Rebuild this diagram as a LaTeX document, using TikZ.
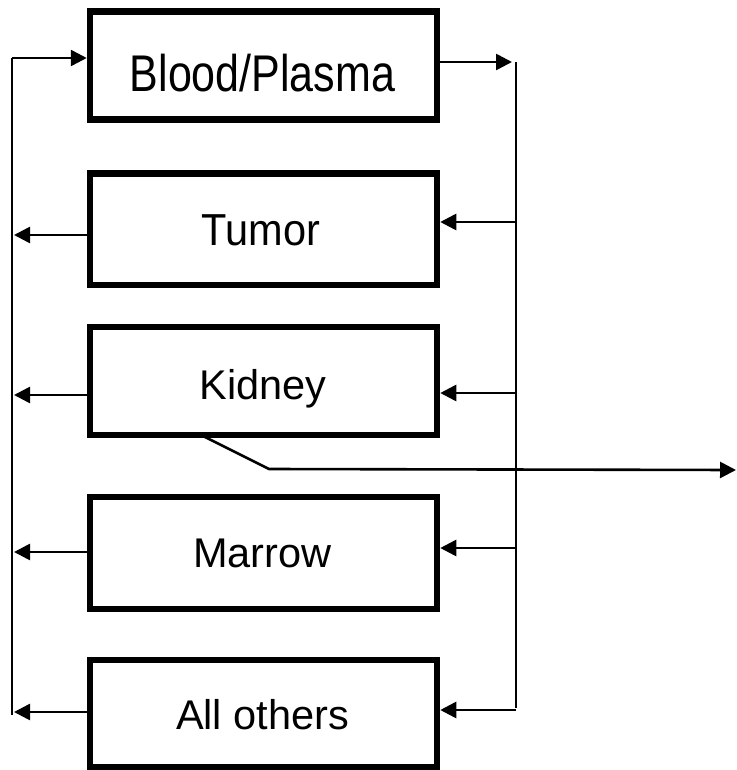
\documentclass[tikz,border=0pt]{standalone}
\usepackage{fontspec}
\setmainfont{Liberation Sans}
\usetikzlibrary{arrows.meta}
\begin{document}
\begin{tikzpicture}[x=1pt,y=-1pt,
  box/.style={draw,line width=6.5pt,minimum width=347pt,inner sep=0pt},
  lbl/.style={anchor=base,inner sep=0pt,font=\fontsize{41.5}{48}\selectfont},
  conn/.style={line width=2.6pt,-{Triangle[length=16pt,width=16pt]}},
  rail/.style={line width=1.6pt}]
\useasboundingbox (0,0) rectangle (736,770);
\node[box,minimum height=108pt] (blood) at (263.5,65.5) {};
\node[box,minimum height=111.5pt] (tumor) at (263.5,229) {};
\node[box,minimum height=108pt] (kidney) at (263.5,381) {};
\node[box,minimum height=112pt] (marrow) at (263.5,553) {};
\node[box,minimum height=107pt] (others) at (263.5,713.5) {};
\node[lbl,font=\fontsize{43}{50}\selectfont] (bloodtxt) at (262.5,92) {\scalebox{1}[1.2]{Blood/Plasma}};
\node[lbl] (tumortxt) at (261,245) {\scalebox{1}[1.08]{Tumor}};
\node[lbl] (kidneytxt) at (263,399) {Kidney};
\node[lbl] (marrowtxt) at (262.5,567) {Marrow};
\node[lbl] (otherstxt) at (262.5,729) {All others};
% left rail
\coordinate (Ltop) at (12,58);
\coordinate (Lbot) at (12,715);
\draw[rail] (Ltop) -- (Lbot);
\draw[conn] (Ltop) -- (Ltop -| blood.west);
\coordinate (Lt) at (14,235);
\coordinate (Lk) at (14,395);
\coordinate (Lm) at (14,552);
\coordinate (Lo) at (14,712);
\draw[conn] (Lt -| tumor.west) -- (Lt);
\draw[conn] (Lk -| kidney.west) -- (Lk);
\draw[conn] (Lm -| marrow.west) -- (Lm);
\draw[conn] (Lo -| others.west) -- (Lo);
% right rail
\coordinate (Rtop) at (516,62);
\coordinate (Rbot) at (516,708);
\draw[rail] (Rtop) -- (Rbot);
\draw[conn] (Rtop -| blood.east) -- (512,62);
\coordinate (Rt) at (516,222);
\coordinate (Rk) at (516,393);
\coordinate (Rm) at (516,548);
\coordinate (Ro) at (516,710);
\draw[conn] (Rt) -- (Rt -| tumor.east);
\draw[conn] (Rk) -- (Rk -| kidney.east);
\draw[conn] (Rm) -- (Rm -| marrow.east);
\draw[conn] (Ro) -- (Ro -| others.east);
% kidney outflow
\coordinate (ks) at (199,434);
\coordinate (kb) at (269,469);
\coordinate (ke) at (736,470);
\draw[conn] (ks) -- (kb) -- (ke);
\end{tikzpicture}
\end{document}
